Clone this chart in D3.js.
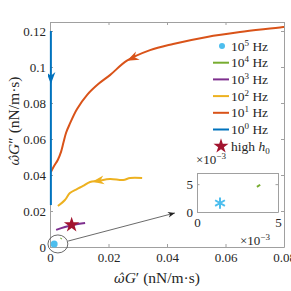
<!DOCTYPE html>
<html>
<head>
<meta charset="utf-8">
<script src="https://cdn.jsdelivr.net/npm/d3@7"></script>
<style>
body { margin: 0; background: #fff; }
text { font-family: "Liberation Serif", "DejaVu Serif", serif; fill: #262626; }
</style>
</head>
<body>
<svg id="chart" width="291" height="291"></svg>
<script>
// data
var blue = [[0.0003, 0.12], [0.0003, 0.0233]];            // 10^0 Hz
var orange = [[0.0003, 0.0417], [0.0012, 0.0445], [0.0027, 0.0485], [0.0038, 0.053],
  [0.0046, 0.058], [0.0055, 0.0635], [0.0068, 0.0685], [0.0092, 0.0765],
  [0.0127, 0.0845], [0.0165, 0.0905], [0.0205, 0.0955], [0.0263, 0.1035],
  [0.0342, 0.1094], [0.0421, 0.1128], [0.0537, 0.1167], [0.065, 0.1194],
  [0.0797, 0.1222], [0.085, 0.1235]];                      // 10^1 Hz
var yellow = [[0.0027, 0.0228], [0.0051, 0.0261], [0.0068, 0.030], [0.0092, 0.0322],
  [0.0113, 0.0339], [0.0137, 0.0361], [0.0164, 0.0367], [0.0205, 0.0378],
  [0.025, 0.0372], [0.0274, 0.0383], [0.0315, 0.0383]];   // 10^2 Hz
var purple = [[0.0021, 0.0095], [0.0051, 0.0111], [0.0079, 0.0122], [0.012, 0.0133]]; // 10^3 Hz
var green = [[0.0037, 0.0045], [0.0039, 0.0049]];         // 10^4 Hz
var cyan = [0.00142, 0.0016];                              // 10^5 Hz
var star = [0.0074, 0.0123];                               // high h0

var xTicks = [0, 0.02, 0.04, 0.06, 0.08];
var yTicks = [0, 0.02, 0.04, 0.06, 0.08, 0.1, 0.12];

// arrows: [tip, tail] on each curve
var arrowsOn = [
  { c: "#0072BD", tip: [0.0003, 0.0905], tail: [0.0003, 0.1] },
  { c: "#D95319", tip: [0.0263, 0.1035], tail: [0.0342, 0.1094] },
  { c: "#EDB120", tip: [0.0144, 0.0362], tail: [0.0205, 0.0378] }
];

var svg = d3.select("#chart");
var x = d3.scaleLinear().domain([0, 0.08]).range([50, 284]);
var y = d3.scaleLinear().domain([0, 0.125]).range([247, 22]);

svg.append("clipPath").attr("id", "clip").append("rect")
  .attr("x", 48).attr("y", 22).attr("width", 236).attr("height", 227);

var line = d3.line().curve(d3.curveCatmullRom)
  .x(function(d) { return x(d[0]); }).y(function(d) { return y(d[1]); });

function arrowHead(g, tip, tail, color, L, W) {
  var ang = Math.atan2(tip[1] - tail[1], tip[0] - tail[0]);
  var pts = [[0, 0], [-L, -W], [-L * 0.7, 0], [-L, W]];
  g.append("path")
    .attr("d", "M" + pts.map(function(p) { return p.join(","); }).join("L") + "Z")
    .attr("transform", "translate(" + tip[0] + "," + tip[1] + ") rotate(" + (ang * 180 / Math.PI) + ")")
    .attr("fill", color);
}

// axes box
function drawAxes(g, xs, ys, xt, yt, fmtX, fmtY, len, fs) {
  g.append("g").attr("transform", "translate(0," + ys.range()[0] + ")")
    .call(d3.axisBottom(xs).tickValues(xt).tickSizeInner(-len).tickSizeOuter(0).tickPadding(6).tickFormat(fmtX));
  g.append("g").attr("transform", "translate(0," + ys.range()[1] + ")")
    .call(d3.axisTop(xs).tickValues(xt).tickSizeInner(-len).tickSizeOuter(0).tickFormat(""));
  g.append("g").attr("transform", "translate(" + xs.range()[0] + ",0)")
    .call(d3.axisLeft(ys).tickValues(yt).tickSizeInner(-len).tickSizeOuter(0).tickPadding(4).tickFormat(fmtY));
  g.append("g").attr("transform", "translate(" + xs.range()[1] + ",0)")
    .call(d3.axisRight(ys).tickValues(yt).tickSizeInner(-len).tickSizeOuter(0).tickFormat(""));
  g.selectAll(".domain, .tick line").attr("stroke", "#a0a0a0");
  g.selectAll(".tick text").attr("font-size", fs).attr("fill", "#262626")
    .style("font-family", "'Liberation Serif', serif");
}

var main = svg.append("g");
drawAxes(main, x, y, xTicks, yTicks, d3.format("~g"), d3.format("~g"), 3, 13);

var plot = svg.append("g").attr("clip-path", "url(#clip)");
[[orange, "#D95319"], [yellow, "#EDB120"], [purple, "#7E2F8E"], [green, "#77AC30"], [blue, "#0072BD"]]
  .forEach(function(s) {
    plot.append("path").datum(s[0]).attr("d", line)
      .attr("fill", "none").attr("stroke", s[1]).attr("stroke-width", 2);
  });

arrowsOn.forEach(function(a) {
  arrowHead(plot, [x(a.tip[0]), y(a.tip[1])], [x(a.tail[0]), y(a.tail[1])], a.c, 12, 4.5);
});

plot.append("circle").attr("cx", x(cyan[0])).attr("cy", y(cyan[1])).attr("r", 3.5).attr("fill", "#4DBEEE");
plot.append("path").attr("d", d3.symbol(d3.symbolStar, 75)())
  .attr("transform", "translate(" + x(star[0]) + "," + y(star[1]) + ")").attr("fill", "#A2142F");

// zoom ellipse and pointer
var ell = [0.0027, 0.0017, 0.0034, 0.005];
svg.append("ellipse").attr("cx", x(ell[0])).attr("cy", y(ell[1]))
  .attr("rx", x(ell[2]) - x(0)).attr("ry", y(0) - y(ell[3]))
  .attr("fill", "none").attr("stroke", "#444").attr("stroke-width", 0.8);
var ptr = [[0.0062, 0.0033], [0.0427, 0.0189]];
svg.append("line").attr("x1", x(ptr[0][0])).attr("y1", y(ptr[0][1]))
  .attr("x2", x(ptr[1][0])).attr("y2", y(ptr[1][1])).attr("stroke", "#444").attr("stroke-width", 0.8);
arrowHead(svg, [x(ptr[1][0]), y(ptr[1][1])], [x(ptr[0][0]), y(ptr[0][1])], "#222", 7, 2.8);

// legend
var legend = [
  { t: "5", c: "#4DBEEE", k: "dot" }, { t: "4", c: "#77AC30", k: "line" },
  { t: "3", c: "#7E2F8E", k: "line" }, { t: "2", c: "#EDB120", k: "line" },
  { t: "1", c: "#D95319", k: "line" }, { t: "0", c: "#0072BD", k: "line" },
  { t: "h", c: "#A2142F", k: "star" }
];
var lg = svg.append("g");
legend.forEach(function(e, i) {
  var yy = 46 + i * 16.7;
  if (e.k === "line") {
    lg.append("line").attr("x1", 213).attr("x2", 229).attr("y1", yy).attr("y2", yy)
      .attr("stroke", e.c).attr("stroke-width", 2);
  } else if (e.k === "dot") {
    lg.append("circle").attr("cx", 222).attr("cy", yy).attr("r", 3).attr("fill", e.c);
  } else {
    lg.append("path").attr("d", d3.symbol(d3.symbolStar, 70)())
      .attr("transform", "translate(221," + yy + ")").attr("fill", e.c);
  }
  var tx = lg.append("text").attr("x", 231).attr("y", yy + 4.5).attr("font-size", 13.5);
  if (e.k === "star") {
    tx.append("tspan").text("high ");
    tx.append("tspan").attr("font-style", "italic").text("h");
    tx.append("tspan").attr("font-size", 9).attr("dy", 3).text("0");
  } else {
    tx.append("tspan").text("10");
    tx.append("tspan").attr("font-size", 9).attr("dy", -5).text(e.t);
    tx.append("tspan").attr("dy", 5).text(" Hz");
  }
});

// inset
var xi = d3.scaleLinear().domain([0, 0.005]).range([197, 278]);
var yi = d3.scaleLinear().domain([0, 0.007]).range([212, 173]);
var inset = svg.append("g");
inset.append("rect").attr("x", 197).attr("y", 173).attr("width", 81).attr("height", 39).attr("fill", "#fff");
drawAxes(inset, xi, yi, [0, 0.005], [0, 0.005], function(d) { return d * 1000; },
  function(d) { return d * 1000; }, 2.5, 13);
var starA = d3.symbol(d3.symbolAsterisk, 90)();
inset.append("path").attr("d", starA)
  .attr("transform", "translate(" + xi(cyan[0]) + "," + yi(cyan[1]) + ")")
  .attr("fill", "none").attr("stroke", "#4DBEEE").attr("stroke-width", 2);
inset.append("path").datum(green).attr("d", d3.line().x(function(d) { return xi(d[0]); }).y(function(d) { return yi(d[1]); }))
  .attr("stroke", "#77AC30").attr("stroke-width", 2).attr("fill", "none");

function times10(g, xx, yy) {
  var t = g.append("text").attr("x", xx).attr("y", yy).attr("font-size", 13);
  t.append("tspan").text("×10");
  t.append("tspan").attr("font-size", 9).attr("dy", -5).text("−3");
}
times10(svg, 196, 164);
times10(svg, 240, 245);

// axis labels
function axisLabel(t, dprime) {
  t.append("tspan").attr("font-style", "italic").style("font-family", "'DejaVu Serif', serif")
    .attr("font-size", 13).text("ω\u0302");
  t.append("tspan").attr("font-style", "italic").text("G");
  t.append("tspan").text(dprime + " (nN/m·s)");
}
axisLabel(svg.append("text").attr("x", 157).attr("y", 283).attr("text-anchor", "middle").attr("font-size", 15.5), "′");
axisLabel(svg.append("text").attr("transform", "translate(19,121) rotate(-90)")
  .attr("text-anchor", "middle").attr("font-size", 15.5), "″");
</script>
</body>
</html>
